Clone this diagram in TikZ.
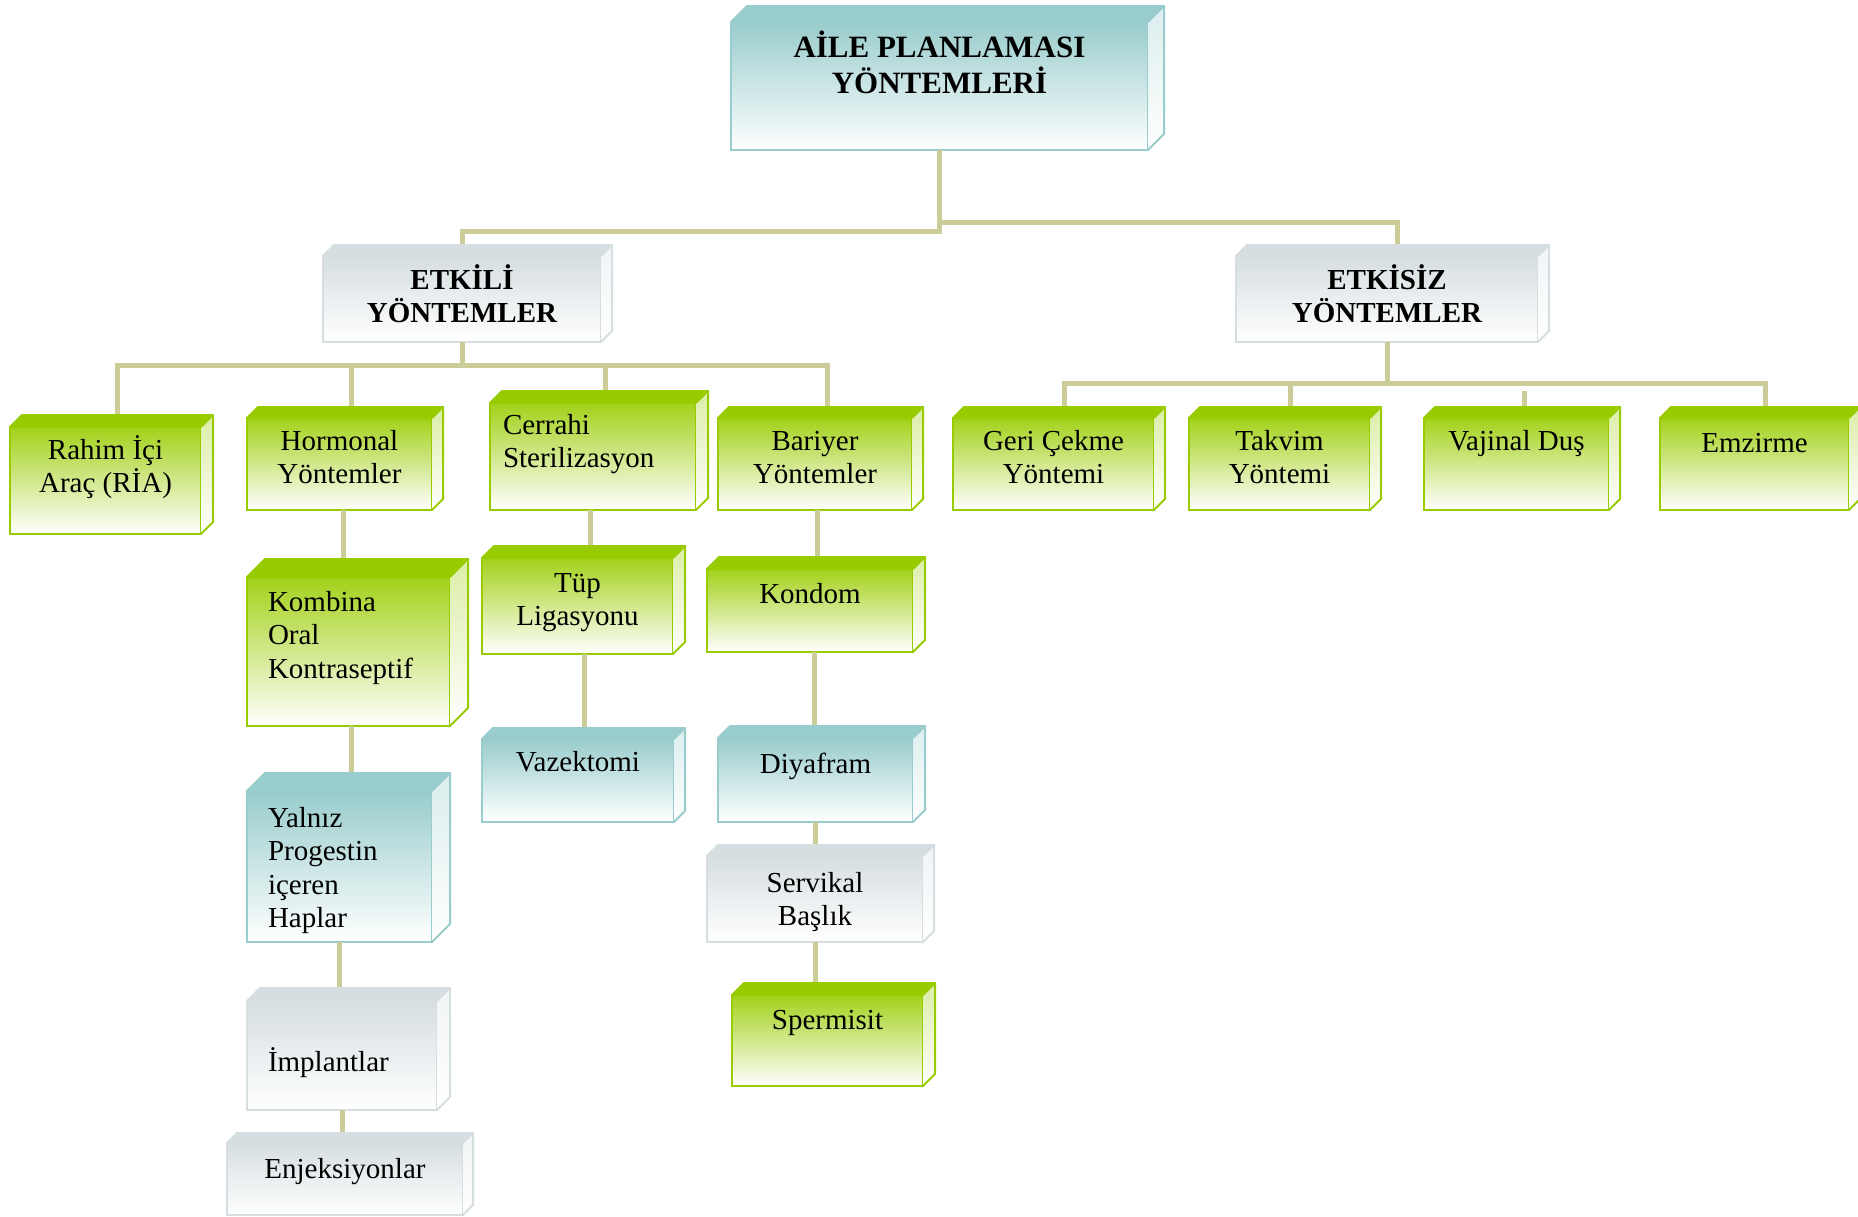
\documentclass[tikz,border=0pt]{standalone}
\usepackage{fontspec}
\setmainfont{Liberation Serif}
\usetikzlibrary{calc}
\definecolor{apgreen}{HTML}{99CC00}
\definecolor{apteal}{HTML}{99CCCC}
\definecolor{apgrey}{HTML}{D6DEE1}
\definecolor{apline}{HTML}{CCCC99}
\tikzset{
  conn/.style={draw=apline, line width=5pt},
  kutu/.style={anchor=north west, inner sep=0pt, outer sep=0pt, line width=2pt,
    font=\fontsize{29}{33.5}\selectfont},
  yesil/.style={kutu, draw=apgreen, top color=apgreen!90, middle color=apgreen!35, bottom color=white},
  mavi/.style={kutu, draw=apteal, top color=apteal, middle color=apteal!45, bottom color=white},
  gri/.style={kutu, draw=apgrey, top color=apgrey, middle color=apgrey!60, bottom color=white},
  baslik/.style={font=\bfseries\fontsize{29}{33}\selectfont}
}
% text of a box: [first baseline]{width}{height}{alignment}{text}
\newcommand\boxlbl[5][33]{\parbox[c][#3pt][t]{#2pt}{#4\rule{0pt}{#1pt}#5\par}}
\newcommand\sola[1]{\raggedright\leftskip=#1pt}

\begin{document}
\begin{tikzpicture}[x=1pt,y=-1pt]
  \fill[white] (0,0) rectangle (1858,1216);
  \useasboundingbox (0,0) rectangle (1858,1216);

  % main boxes
  \node[mavi, font=\bfseries\fontsize{31}{36}\selectfont] (aile) at (731,22)
    {\boxlbl[35]{417}{128}{\centering}{AİLE PLANLAMASI\\YÖNTEMLERİ}};
  \node[gri, baslik] (etkili) at (323,256) {\boxlbl{278}{86}{\centering}{ETKİLİ\\YÖNTEMLER}};
  \node[gri, baslik] (etkisiz) at (1236,256) {\boxlbl{302}{86}{\centering}{ETKİSİZ\\YÖNTEMLER}};

  % etkili
  \node[yesil] (rahim) at (10,427) {\boxlbl[32]{191}{107}{\centering}{Rahim İçi\\Araç (RİA)}};
  \node[yesil] (hormonal) at (247,418) {\boxlbl[32]{185}{92}{\centering}{Hormonal\\Yöntemler}};
  \node[yesil] (cerrahi) at (490,403) {\boxlbl[31]{206}{107}{\sola{13}}{Cerrahi\\Sterilizasyon}};
  \node[yesil] (bariyer) at (718,418) {\boxlbl[32]{194}{92}{\centering}{Bariyer\\Yöntemler}};

  \node[yesil] (kombina) at (247,577) {\boxlbl[34]{203}{149}{\sola{21}}{Kombina\\Oral\\Kontraseptif}};
  \node[mavi] (yalniz) at (247,791) {\boxlbl[36]{185}{151}{\sola{21}}{Yalnız\\Progestin\\içeren\\Haplar}};
  \node[gri] (implant) at (247,1001) {\boxlbl[70]{190}{109}{\sola{21}}{İmplantlar}};
  \node[gri] (enjeks) at (227,1143) {\boxlbl[35]{236}{72}{\centering}{Enjeksiyonlar}};

  \node[yesil] (tup) at (482,558) {\boxlbl[34]{191}{96}{\centering}{Tüp\\Ligasyonu}};
  \node[mavi] (vazek) at (482,739) {\boxlbl[32]{192}{83}{\centering}{Vazektomi}};

  \node[yesil] (kondom) at (707,569) {\boxlbl[34]{206}{83}{\centering}{Kondom}};
  \node[mavi] (diyafram) at (718,738) {\boxlbl[35]{195}{84}{\centering}{Diyafram}};
  \node[gri] (servikal) at (707,856) {\boxlbl[36]{216}{86}{\centering}{Servikal\\Başlık}};
  \node[yesil] (spermisit) at (732,995) {\boxlbl[34]{191}{91}{\centering}{Spermisit}};

  % etkisiz
  \node[yesil] (geri) at (953,418) {\boxlbl[32]{201}{92}{\centering}{Geri Çekme\\Yöntemi}};
  \node[yesil] (takvim) at (1189,418) {\boxlbl[32]{181}{92}{\centering}{Takvim\\Yöntemi}};
  \node[yesil] (vajinal) at (1424,418) {\boxlbl[32]{185}{92}{\centering}{Vajinal Duş}};
  \node[yesil] (emzirme) at (1660,418) {\boxlbl[34]{189}{92}{\centering}{Emzirme}};

  % connectors
  \draw[conn] (aile.south) -- ++(0,81) -| (etkili.north);
  \draw[conn] (aile.south) -- ++(0,72) -| ([xshift=10pt]etkisiz.north);

  \draw[conn] (etkili.south) -- ++(0,23) coordinate (solbar);
  \foreach \n in {rahim,hormonal,cerrahi,bariyer}
    \draw[conn] (solbar) -| ([xshift=12pt]\n.north);

  \draw[conn] (etkisiz.south) -- ++(0,41) coordinate (sagbar);
  \foreach \n in {geri,takvim,emzirme}
    \draw[conn] (sagbar) -| ([xshift=11pt]\n.north);
  \draw[conn] ([xshift=8pt]vajinal.north) -- ++(0,-27);

  \foreach \a/\b/\s in {hormonal/kombina/4, kombina/yalniz/3, yalniz/implant/0, implant/enjeks/0,
      cerrahi/tup/-3, tup/vazek/7, bariyer/kondom/2, kondom/diyafram/4,
      diyafram/servikal/0, servikal/spermisit/0}
    \draw[conn] ([xshift=\s pt]\a.south) -- ([xshift=\s pt]\a.south |- \b.north);

  % top and right faces
  \foreach \n/\dd/\col in {aile/16/apteal, etkili/11/apgrey, etkisiz/11/apgrey,
      rahim/12/apgreen, hormonal/11/apgreen, cerrahi/12/apgreen, bariyer/11/apgreen,
      kombina/18/apgreen, yalniz/18/apteal, implant/13/apgrey, enjeks/10/apgrey,
      tup/12/apgreen, vazek/11/apteal, kondom/12/apgreen, diyafram/12/apteal,
      servikal/11/apgrey, spermisit/12/apgreen,
      geri/11/apgreen, takvim/11/apgreen, vajinal/11/apgreen, emzirme/11/apgreen}
  {
    \filldraw[fill=\col, draw=\col, line width=2pt, line join=round]
      (\n.north west) -- ++(\dd,-\dd) -- ($(\n.north east)+(\dd,-\dd)$) -- (\n.north east) -- cycle;
    \shade[top color=\col!35, bottom color=white]
      (\n.north east) -- ($(\n.north east)+(\dd,-\dd)$) -- ($(\n.south east)+(\dd,-\dd)$) -- (\n.south east) -- cycle;
    \draw[\col, line width=2pt, line join=round]
      (\n.north east) -- ($(\n.north east)+(\dd,-\dd)$) -- ($(\n.south east)+(\dd,-\dd)$) -- (\n.south east);
  }
\end{tikzpicture}
\end{document}
